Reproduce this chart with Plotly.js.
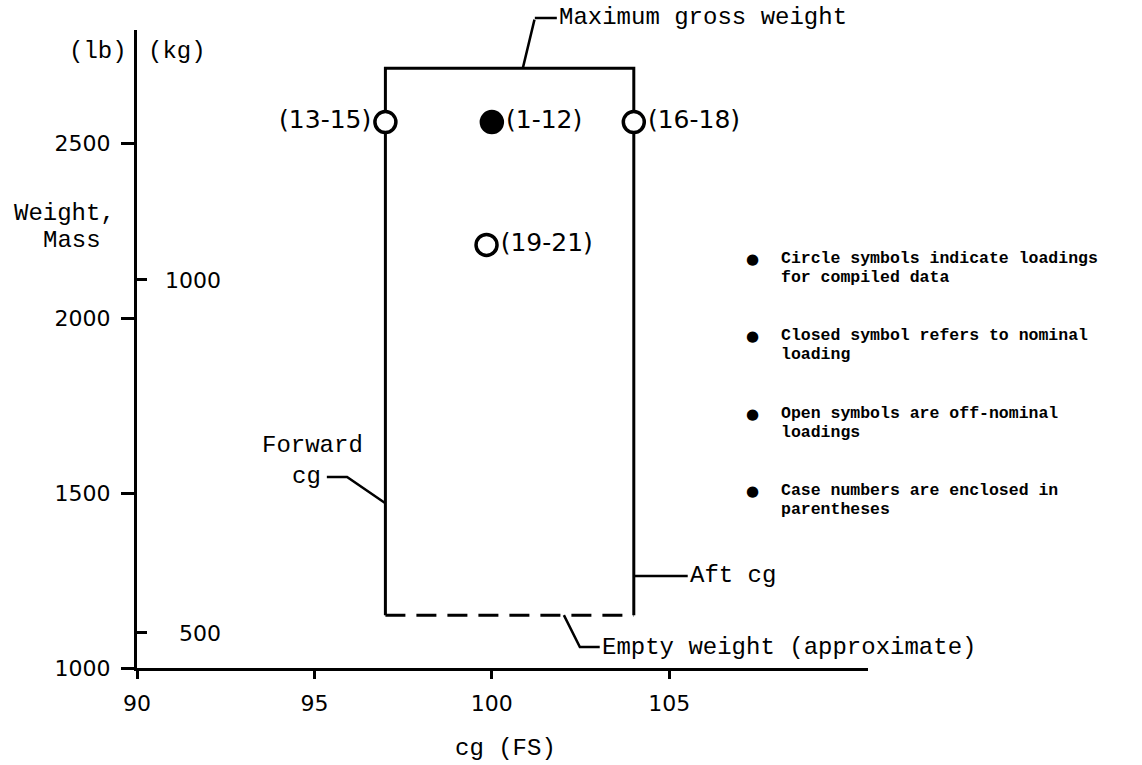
<!DOCTYPE html>
<html>
<head>
<meta charset="utf-8">
<script src="https://cdn.plot.ly/plotly-3.0.1.min.js"></script>
<style>html,body{margin:0;padding:0;background:#fff;}</style>
</head>
<body>
<div id="chart" style="width:1142px;height:765px;"></div>
<script>
// ---------------- data ----------------
const cgTicks = [90, 95, 100, 105];
const lbTicks = [1000, 1500, 2000, 2500];
const kgTicks = [500, 1000];
const kgTickText = ['500', '1000'];

const fwdCgLimit = 97;      // forward cg (FS)
const aftCgLimit = 104;     // aft cg (FS)
const maxGrossWeight = 2714; // lb
const emptyWeight = 1151;    // lb (approximate)

const caseCg = [97, 100, 104, 99.85];
const caseWeight = [2560, 2560, 2560, 2209];
const caseLabels = ['(13-15)', '(1-12)', '(16-18)', '(19-21)'];
const caseClosed = [false, true, false, false];

const legendItems = [
  ['Circle symbols indicate loadings', 'for compiled data'],
  ['Closed symbol refers to nominal', 'loading'],
  ['Open symbols are off-nominal', 'loadings'],
  ['Case numbers are enclosed in', 'parentheses']
];

// leader lines (cg, lb)
const fwdLeaderCg = [95.35, 95.92, fwdCgLimit];
const fwdLeaderWt = [1546, 1546, 1471];
const aftLeaderCg = [aftCgLimit, 105.52];
const aftLeaderWt = [1263, 1263];
const emptyLeaderCg = [102.03, 102.48, 103.04];
const emptyLeaderWt = [emptyWeight, 1060, 1060];

// ---------------- layout helpers ----------------
const MONO = '"Liberation Mono", "Courier New", monospace';
const SANS = '"DejaVu Sans", sans-serif';
const plotL = 137, plotR = 868, plotT = 30, plotB = 668;
const W = 1142, H = 765;
const px2x = p => (p - plotL) / (plotR - plotL);
const px2y = p => (plotB - p) / (plotB - plotT);

const black = '#000';
const textPos = caseLabels.map((_, i) => i === 0 ? 'middle left' : 'middle right');

const traces = [
  // envelope: forward, top, aft (solid)
  {x: [fwdCgLimit, fwdCgLimit, aftCgLimit, aftCgLimit],
   y: [emptyWeight, maxGrossWeight, maxGrossWeight, emptyWeight],
   mode: 'lines', line: {color: black, width: 3}, hoverinfo: 'skip'},
  // empty weight (dashed)
  {x: [fwdCgLimit, aftCgLimit], y: [emptyWeight, emptyWeight],
   mode: 'lines', line: {color: black, width: 3, dash: '20px,11px'}, hoverinfo: 'skip'},
  // leaders
  {x: fwdLeaderCg, y: fwdLeaderWt, mode: 'lines', line: {color: black, width: 2.5}, hoverinfo: 'skip'},
  {x: aftLeaderCg, y: aftLeaderWt, mode: 'lines', line: {color: black, width: 2.5}, hoverinfo: 'skip'},
  {x: emptyLeaderCg, y: emptyLeaderWt, mode: 'lines', line: {color: black, width: 2.5}, hoverinfo: 'skip'},
  // loading cases
  {x: caseCg, y: caseWeight, text: caseLabels, mode: 'markers+text',
   textposition: textPos, cliponaxis: false,
   textfont: {family: SANS, size: 25, color: black},
   marker: {symbol: 'circle', size: 21,
            color: caseClosed.map(c => c ? black : '#fff'),
            line: {color: black, width: 3.5}},
   hoverinfo: 'skip'},
  // axis helpers (kg scale)
  {x: [], y: [], yaxis: 'y2', mode: 'markers', hoverinfo: 'skip'},
  {x: [], y: [], yaxis: 'y3', mode: 'markers', hoverinfo: 'skip'}
];

const kgRange = [450.4, 1354];

const annotations = [];
function ann(o) {
  annotations.push(Object.assign({showarrow: false, font: {family: MONO, size: 24, color: black}}, o));
}

// Maximum gross weight leader + label
ann({xref: 'x', yref: 'y', x: 100.873, y: maxGrossWeight, text: '', showarrow: true,
     arrowhead: 0, arrowwidth: 2.5, arrowcolor: black, axref: 'pixel', ayref: 'pixel',
     ax: 12, ay: -50, standoff: 0, startstandoff: 0});
ann({xref: 'x', yref: 'paper', x: 101.211, y: px2y(18), text: 'Maximum gross weight',
     showarrow: true, arrowhead: 0, arrowwidth: 2.5, arrowcolor: black,
     axref: 'pixel', ayref: 'pixel', ax: 22, ay: 0, standoff: 0,
     xanchor: 'left', yanchor: 'middle'});

// Forward cg
ann({xref: 'x', yref: 'y', x: 96.42, y: 1637, text: 'Forward', xanchor: 'right', yanchor: 'middle'});
ann({xref: 'x', yref: 'y', x: 95.25, y: 1546, text: 'cg', xanchor: 'right', yanchor: 'middle'});
// Aft cg
ann({xref: 'x', yref: 'y', x: aftLeaderCg[1], y: aftLeaderWt[1], text: 'Aft cg', xanchor: 'left', yanchor: 'middle'});
// Empty weight
ann({xref: 'x', yref: 'y', x: emptyLeaderCg[2], y: emptyLeaderWt[2], text: 'Empty weight (approximate)', xanchor: 'left', yanchor: 'middle'});

// units + axis names
ann({xref: 'paper', yref: 'paper', x: 0, xshift: -8, y: px2y(52), text: '(lb)', xanchor: 'right', yanchor: 'middle'});
ann({xref: 'paper', yref: 'paper', x: 0, xshift: 9, y: px2y(52), text: '(kg)', xanchor: 'left', yanchor: 'middle'});
ann({xref: 'paper', yref: 'paper', x: px2x(12), y: px2y(213), text: 'Weight,', xanchor: 'left', yanchor: 'middle'});
ann({xref: 'paper', yref: 'paper', x: px2x(41), y: px2y(240), text: 'Mass', xanchor: 'left', yanchor: 'middle'});
ann({xref: 'paper', yref: 'paper', x: px2x(505), y: px2y(748), text: 'cg (FS)', xanchor: 'center', yanchor: 'middle'});

// legend notes
const legendTop = [258, 335, 413, 490];
legendItems.forEach((lines, i) => {
  ann({xref: 'paper', yref: 'paper', x: px2x(752), y: px2y(legendTop[i] + 1), text: '\u25CF',
       xanchor: 'center', yanchor: 'middle', font: {family: SANS, size: 15, color: black}});
  lines.forEach((ln, j) => {
    ann({xref: 'paper', yref: 'paper', x: px2x(779), y: px2y(legendTop[i] + j * 19.5), text: ln,
         xanchor: 'left', yanchor: 'middle', font: {family: MONO, size: 16.5, color: black, weight: 'bold'}});
  });
});

const layout = {
  width: W, height: H,
  margin: {l: plotL, r: W - plotR, t: plotT, b: H - plotB, pad: 0},
  paper_bgcolor: '#fff', plot_bgcolor: '#fff',
  showlegend: false,
  font: {family: SANS, color: black},
  xaxis: {
    range: [90, 110.6], tickvals: cgTicks, ticktext: cgTicks.map(String),
    showline: true, linecolor: black, linewidth: 3, mirror: false,
    ticks: 'outside', ticklen: 8, tickwidth: 3, tickcolor: black,
    showgrid: false, zeroline: false, fixedrange: true,
    tickfont: {family: SANS, size: 22, color: black}, ticklabelstandoff: 6
  },
  yaxis: {
    range: [1000, 2823], tickvals: lbTicks, ticktext: lbTicks.map(String),
    showline: true, linecolor: black, linewidth: 3,
    ticks: 'outside', ticklen: 13, tickwidth: 3, tickcolor: black,
    showgrid: false, zeroline: false, fixedrange: true,
    tickfont: {family: SANS, size: 22, color: black}, ticklabelstandoff: 6
  },
  yaxis2: {
    overlaying: 'y', side: 'left', anchor: 'x', range: kgRange,
    tickvals: kgTicks, ticks: 'inside', ticklen: 10, tickwidth: 3, tickcolor: black,
    showticklabels: false, showline: false, showgrid: false, zeroline: false, fixedrange: true
  },
  yaxis3: {
    overlaying: 'y', side: 'left', anchor: 'free', position: px2x(221), range: kgRange,
    tickvals: kgTicks, ticktext: kgTickText, ticks: '', showline: false, showgrid: false,
    zeroline: false, fixedrange: true,
    tickfont: {family: SANS, size: 22, color: black}
  },
  annotations: annotations
};

Plotly.newPlot('chart', traces, layout, {displayModeBar: false, staticPlot: true});
</script>
</body>
</html>
